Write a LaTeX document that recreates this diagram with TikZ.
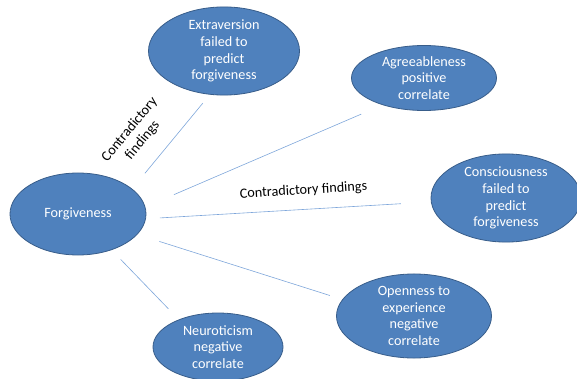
\documentclass[tikz,border=0pt]{standalone}
\usepackage{fontspec}
\setmainfont{Carlito}
\usepackage{xcolor}
\usetikzlibrary{shapes.geometric}
\definecolor{traitfill}{HTML}{4F81BD}
\definecolor{traitrim} {HTML}{385D8A}
\definecolor{linkblue} {HTML}{7EA6DA}

\tikzset{
  trait/.style={ellipse,draw=traitrim,fill=traitfill,line width=0.8pt,
                text=white,align=center,inner sep=0pt,
                font=\fontsize{14.2}{16.7}\selectfont},
  link/.style={draw=linkblue,line width=0.6pt},
  note/.style={text=black,align=center,font=\fontsize{14.2}{16.7}\selectfont}
}

\begin{document}
\begin{tikzpicture}[x=1pt,y=-1pt]
  \useasboundingbox (0,0) rectangle (577,379);

  % centre and the five traits
  \node[trait,minimum width=136pt,minimum height=82pt] (forg) at (78,214) {Forgiveness};
  \node[trait,minimum width=151pt,minimum height=82pt] (extr) at (224,51)
    {Extraversion\\failed to\\predict\\forgiveness};
  \node[trait,minimum width=145pt,minimum height=65pt] (agre) at (424,78)
    {Agreeableness\\positive\\correlate};
  \node[trait,minimum width=150pt,minimum height=79pt] (cons) at (506,198)
    {Consciousness\\failed to\\predict\\forgiveness};
  \node[trait,minimum width=155pt,minimum height=68pt] (open) at (414,316)
    {Openness to\\experience\\negative\\correlate};
  \node[trait,minimum width=130pt,minimum height=68pt] (neur) at (218,347)
    {Neuroticism\\negative\\correlate};

  % links, kept clear of the ellipses
  \draw[link,shorten <=20pt,shorten >=11pt] (forg.25) -- (extr.252)
    node[note,sloped,above=13pt,pos=0.36] {Contradictory\\findings};
  \draw[link,shorten <=31pt,shorten >=23pt] (forg.6) -- (agre.213);
  \draw[link,shorten <=14pt,shorten >=30pt] (forg.356) -- (cons.183)
    node[note,sloped,above=9pt,pos=0.557] {Contradictory findings};
  \draw[link,shorten <=23pt,shorten >=13pt] (forg.341) -- (open.167);
  \draw[link,shorten <=13pt,shorten >=15pt] (forg.313) -- (neur.145);
\end{tikzpicture}
\end{document}
